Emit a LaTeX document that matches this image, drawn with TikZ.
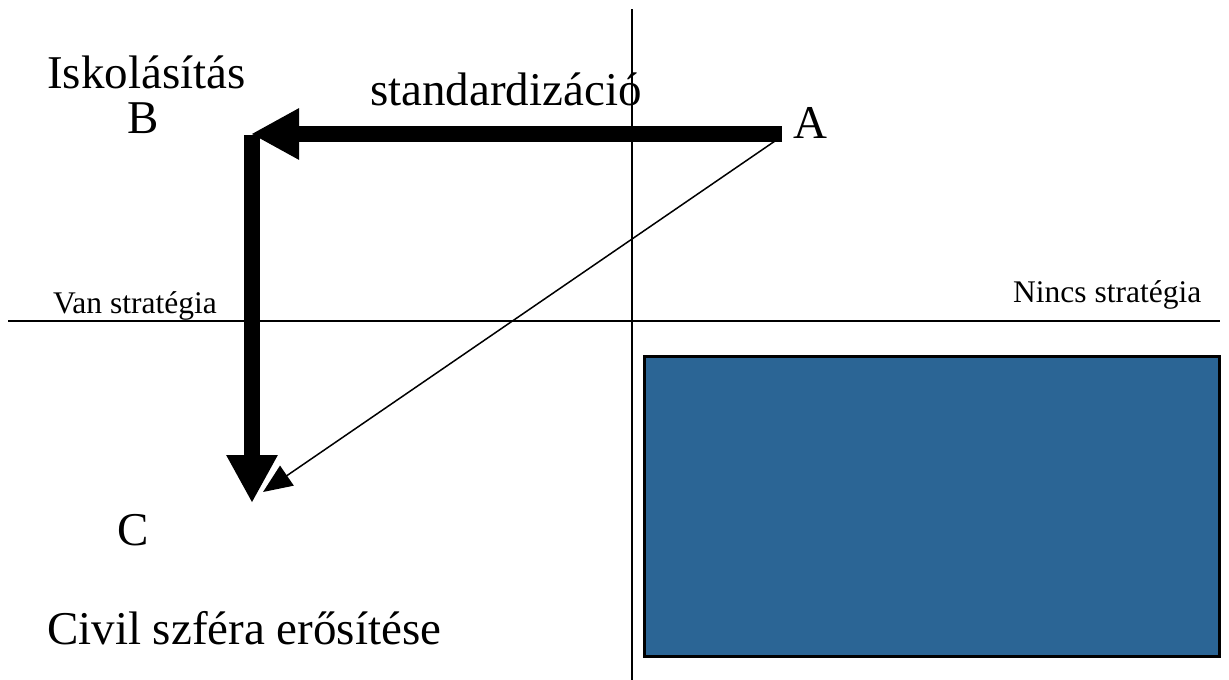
\documentclass[tikz,border=0pt]{standalone}
\usepackage{fontspec}
\setmainfont{Liberation Serif}
\usetikzlibrary{arrows.meta}
\definecolor{boxblue}{RGB}{43,101,149}
\begin{document}
\begin{tikzpicture}[x=1pt,y=-1pt,
  big/.style={inner sep=0pt, anchor=base west, font=\fontsize{47}{56}\selectfont},
  small/.style={inner sep=0pt, anchor=base west, font=\fontsize{31.5}{38}\selectfont},
  axis/.style={line width=2pt, black},
  fatarrow/.style={line width=16pt, -{Triangle[length=48pt,width=48pt]}},
  thinarrow/.style={line width=1.5pt, -{Triangle[length=29pt,width=24pt]}},
  panel/.style={draw=black, line width=3pt, fill=boxblue}]
\useasboundingbox (0,0) rectangle (1229,680);
% axes
\coordinate (axT) at (632,9);
\coordinate (axB) at (632,680);
\coordinate (axL) at (8,321);
\coordinate (axR) at (1220,321);
\draw[axis] (axT) -- (axB);
\draw[axis] (axL) -- (axR);
% blue panel
\node[panel, anchor=north west, minimum width=575pt, minimum height=300pt, inner sep=0pt] (panel) at (643,355) {};
% labels
\node[big] (isk) at (47,88) {Iskolásítás};
\node[big] (lB) at (127,133) {B};
\node[big] (std) at (370,105) {standardizáció};
\node[big] (lA) at (793,138) {A};
\node[big] (lC) at (117,545) {C};
\node[big] (civ) at (47,644) {Civil szféra erősítése};
\node[small] (van) at (53,313) {Van stratégia};
\node[small] (nincs) at (1013,302) {Nincs stratégia};
% arrows
\coordinate (pA) at (782,134);
\coordinate (pB) at (251,134);
\coordinate (pBt) at (252,135);
\coordinate (pC) at (252,503);
\coordinate (pAt) at (775,141);
\coordinate (tC) at (263,492);
\draw[thinarrow] (pAt) -- (tC);
\draw[fatarrow] (pBt) -- (pC);
\draw[fatarrow] (pA) -- (pB);
\end{tikzpicture}
\end{document}
